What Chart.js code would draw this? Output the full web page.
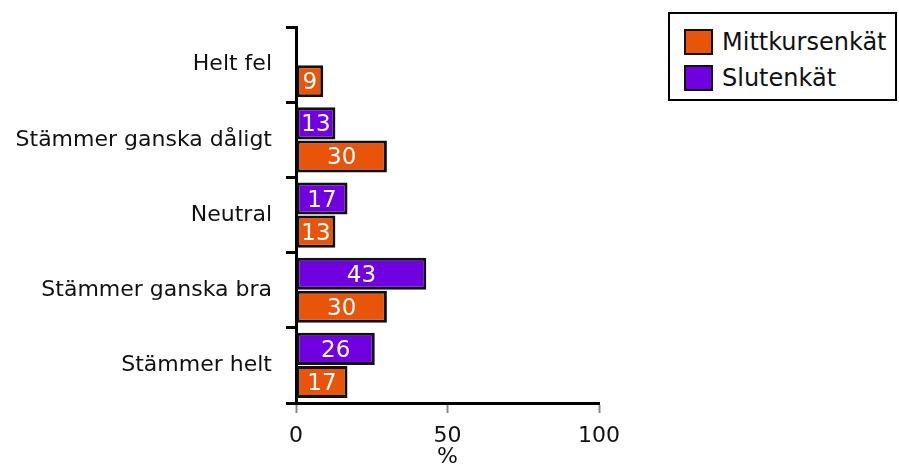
<!DOCTYPE html>
<html>
<head>
<meta charset="utf-8">
<script src="https://cdn.jsdelivr.net/npm/chart.js@4/dist/chart.umd.min.js"></script>
<style>
  body { margin: 0; background: #fff; font-family: "DejaVu Sans", sans-serif; }
  #wrap { position: relative; width: 899px; height: 468px; }
  #legend {
    position: absolute; left: 668px; top: 12px; width: 225px; height: 85px;
    border: 2px solid #000; background: #fff;
  }
  .item { position: absolute; left: 14px; font-size: 24px; color: #111; display: flex; align-items: center; }
  .sw { width: 25px; height: 22px; border: 2px solid #111; margin-right: 9px; }
</style>
</head>
<body>
<div id="wrap">
  <canvas id="c" width="899" height="468"></canvas>
  <div id="legend"></div>
</div>
<script>
const categories = ['Helt fel', 'Stämmer ganska dåligt', 'Neutral', 'Stämmer ganska bra', 'Stämmer helt'];
const mittkurs = [9, 30, 13, 30, 17];
const slut = [null, 13, 17, 43, 26];
const xTicks = [0, 50, 100];

const orange = '#E8540A';
const purple = '#7000E0';

// legend (kept in the order of the reference)
const legendItems = [['Mittkursenkät', orange], ['Slutenkät', purple]];
const legendEl = document.getElementById('legend');
legendItems.forEach(([name, col], i) => {
    const d = document.createElement('div');
    d.className = 'item';
    d.style.top = (14 + i * 36) + 'px';
    d.innerHTML = `<span class="sw" style="background:${col}"></span>${name}`;
    legendEl.appendChild(d);
});

// white value labels in the middle of each bar
const barLabels = {
    id: 'barLabels',
    afterDatasetsDraw(chart) {
        const ctx = chart.ctx;
        ctx.save();
        ctx.fillStyle = '#fff';
        ctx.font = '23px "DejaVu Sans"';
        ctx.textAlign = 'center';
        ctx.textBaseline = 'middle';
        chart.data.datasets.forEach((ds, di) => {
            chart.getDatasetMeta(di).data.forEach((bar, i) => {
                const v = ds.data[i];
                if (v == null) return;
                ctx.fillText(v, (bar.x + bar.base) / 2, bar.y + 2);
            });
        });
        ctx.restore();
    }
};

new Chart(document.getElementById('c'), {
    type: 'bar',
    data: {
        labels: categories,
        datasets: [
            { label: 'Slutenkät', data: slut, backgroundColor: purple, borderColor: '#111', borderWidth: 3, borderSkipped: false },
            { label: 'Mittkursenkät', data: mittkurs, backgroundColor: orange, borderColor: '#111', borderWidth: 3, borderSkipped: false }
        ]
    },
    options: {
        indexAxis: 'y',
        responsive: false,
        animation: false,
        categoryPercentage: 0.88,
        barPercentage: 0.97,
        layout: { padding: { top: 25, right: 300, left: 0, bottom: 0 } },
        plugins: { legend: { display: false }, tooltip: { enabled: false } },
        scales: {
            x: {
                min: 0, max: 100,
                afterBuildTicks: s => { s.ticks = xTicks.map(v => ({ value: v })); },
                afterFit: s => { s.height = 65; },
                border: { color: '#000', width: 3 },
                grid: { drawOnChartArea: false, tickLength: 10, color: '#888', tickWidth: 2 },
                ticks: { color: '#111', font: { size: 22, family: 'DejaVu Sans' }, padding: 10, maxRotation: 0 },
                title: { display: true, text: '%', color: '#111', font: { size: 22, family: 'DejaVu Sans', lineHeight: 1 }, padding: { top: 0, bottom: 0 } }
            },
            y: {
                afterFit: s => { s.width = 296; },
                border: { color: '#000', width: 3 },
                grid: { drawOnChartArea: false, offset: true, tickLength: 10, color: '#000', tickWidth: 3 },
                ticks: { color: '#111', font: { size: 22, family: 'DejaVu Sans' }, padding: 14 }
            }
        }
    },
    plugins: [barLabels]
});
</script>
</body>
</html>
